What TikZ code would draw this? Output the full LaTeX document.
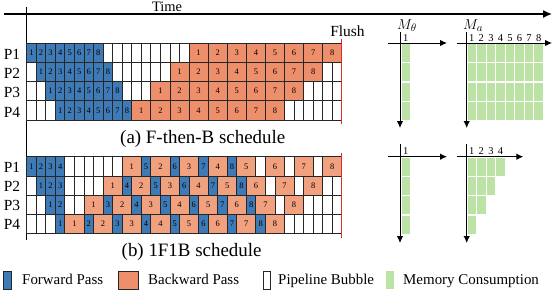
\documentclass[tikz,border=0pt]{standalone}
\usepackage{fontspec}
\setmainfont{Liberation Serif}
\usepackage{tikz}
\usetikzlibrary{arrows.meta, positioning}
\definecolor{fwdblue}{HTML}{3E7BB6}
\definecolor{bwdorange}{HTML}{EE8F6C}
\definecolor{bwdlight}{HTML}{F2A17F}
\definecolor{memgreen}{HTML}{BDE2A5}
\definecolor{flushred}{HTML}{DD2C2C}
\definecolor{gridgray}{HTML}{262626}

% one schedule row: name, top y, backward colour, list of kind/label
\newcount\slotpos
\newcommand\schedrow[4]{%
  \global\slotpos=0
  \foreach \kind/\lbl [count=\k] in {#4}{
    \if b\kind\def\cw{2}\def\cfill{#3}\else
      \def\cw{1}\if f\kind\def\cfill{fwdblue}\else\def\cfill{white}\fi\fi
    \node[cell, fill=\cfill, minimum width=\cw*9.55bp]
      (#1-\k) at ({26.7+\the\slotpos*9.55}, #2) {\lbl};
    \global\advance\slotpos by \cw\relax
  }}

\begin{document}
\begin{tikzpicture}[x=1bp, y=-1bp,
  cell/.style={draw=gridgray, line width=0.9bp, anchor=north west,
               inner sep=0pt, outer sep=0pt, minimum height=19.25bp,
               font=\fontsize{8.5}{9}\selectfont},
  memcell/.style={draw=white, line width=1.2bp, fill=memgreen,
                  anchor=north west, inner sep=0pt, outer sep=0pt,
                  minimum width=9.55bp, minimum height=19.25bp},
  axis/.style={line width=1bp, -{Latex[length=7bp, width=6.5bp]}},
  timeaxis/.style={line width=1.3bp, -{Latex[length=9bp, width=8bp]}},
  flush/.style={draw=flushred, line width=1.6bp},
  plbl/.style={anchor=base, font=\fontsize{15.5}{18}\selectfont, inner sep=0pt},
  collbl/.style={anchor=base, font=\fontsize{10.5}{12}\selectfont, inner sep=0pt},
  caption/.style={anchor=base west, font=\fontsize{19}{22}\selectfont, inner sep=0pt},
  legbox/.style={draw=gridgray, line width=0.9bp, anchor=north west,
                 inner sep=0pt, minimum height=18.5bp},
  legtxt/.style={anchor=base west, font=\fontsize{15}{18}\selectfont, inner sep=0pt},
]
\useasboundingbox (0,0) rectangle (554,290);

% Time axis
\coordinate (t0) at (4,14);
\coordinate (t1) at (552,14);
\coordinate (v0) at (26.5,7);
\coordinate (v1) at (26.5,240);
\draw[timeaxis] (t0) -- (t1);
\draw[line width=1.3bp] (v0) -- (v1);
\node[anchor=base, font=\fontsize{14.5}{17}\selectfont, inner sep=0pt] (time) at (167,11.5) {Time};

% (a) F-then-B
\schedrow{fa1}{43}{bwdorange}{f/1,f/2,f/3,f/4,f/5,f/6,f/7,f/8,e/{},e/{},e/{},e/{},e/{},e/{},e/{},e/{},e/{},b/1,b/2,b/3,b/4,b/5,b/6,b/7,b/8}
\schedrow{fa2}{62.25}{bwdorange}{e/{},f/1,f/2,f/3,f/4,f/5,f/6,f/7,f/8,e/{},e/{},e/{},e/{},e/{},e/{},b/1,b/2,b/3,b/4,b/5,b/6,b/7,b/8,e/{},e/{}}
\schedrow{fa3}{81.5}{bwdorange}{e/{},e/{},f/1,f/2,f/3,f/4,f/5,f/6,f/7,f/8,e/{},e/{},e/{},b/1,b/2,b/3,b/4,b/5,b/6,b/7,b/8,e/{},e/{},e/{},e/{}}
\schedrow{fa4}{100.75}{bwdorange}{e/{},e/{},e/{},f/1,f/2,f/3,f/4,f/5,f/6,f/7,f/8,b/1,b/2,b/3,b/4,b/5,b/6,b/7,b/8,e/{},e/{},e/{},e/{},e/{},e/{}}
\foreach \p/\yy in {1/43,2/62.25,3/81.5,4/100.75}
  \node[plbl] (pa\p) at (12,{\yy+16.3}) {P\p};

% (b) 1F1B
\schedrow{fb1}{156.7}{bwdlight}{f/1,f/2,f/3,f/4,e/{},e/{},e/{},e/{},e/{},e/{},b/1,f/5,b/2,f/6,b/3,f/7,b/4,f/8,b/5,e/{},b/6,e/{},b/7,e/{},b/8}
\schedrow{fb2}{175.95}{bwdlight}{e/{},f/1,f/2,f/3,e/{},e/{},e/{},e/{},b/1,f/4,b/2,f/5,b/3,f/6,b/4,f/7,b/5,f/8,b/6,e/{},b/7,e/{},b/8,e/{},e/{}}
\schedrow{fb3}{195.2}{bwdlight}{e/{},e/{},f/1,f/2,e/{},e/{},b/1,f/3,b/2,f/4,b/3,f/5,b/4,f/6,b/5,f/7,b/6,f/8,b/7,e/{},b/8,e/{},e/{},e/{},e/{}}
\schedrow{fb4}{214.45}{bwdlight}{e/{},e/{},e/{},f/1,b/1,f/2,b/2,f/3,b/3,f/4,b/4,f/5,b/5,f/6,b/6,f/7,b/7,f/8,b/8,e/{},e/{},e/{},e/{},e/{},e/{}}
\foreach \p/\yy in {1/156.7,2/175.95,3/195.2,4/214.45}
  \node[plbl] (pb\p) at (12,{\yy+15.5}) {P\p};

% Flush
\coordinate (fla0) at (341.6,39);
\coordinate (fla1) at (341.6,124);
\coordinate (flb0) at (341.6,152.7);
\coordinate (flb1) at (341.6,238);
\draw[flush] (fla0) -- (fla1);
\draw[flush] (flb0) -- (flb1);
\node[anchor=base, font=\fontsize{15.5}{18}\selectfont, inner sep=0pt] (flush) at (347.5,36) {Flush};

% Captions
\node[caption] (capa) at (120,143) {(a) F-then-B schedule};
\node[caption] (capb) at (121.5,256.5) {(b) 1F1B schedule};

% Memory (a)
\foreach \r in {0,...,3}
  \node[memcell] (mta-\r) at (401,{43.5+\r*19.25}) {};
\foreach \r in {0,...,3}
  \foreach \c in {0,...,7}
    \node[memcell] (maa-\r-\c) at ({467+\c*9.55},{43.5+\r*19.25}) {};
\coordinate (mtah0) at (388,43);   \coordinate (mtah1) at (447,43);
\coordinate (mtav0) at (400,32);   \coordinate (mtav1) at (400,128);
\coordinate (maah0) at (456.7,43); \coordinate (maah1) at (552,43);
\coordinate (maav0) at (466.7,32); \coordinate (maav1) at (466.7,128);
\draw[axis] (mtah0) -- (mtah1);
\draw[axis] (mtav0) -- (mtav1);
\draw[axis] (maah0) -- (maah1);
\draw[axis] (maav0) -- (maav1);
\node[collbl] (mtal1) at (405.8,41) {1};
\foreach \c in {1,...,8}
  \node[collbl] (maal\c) at ({467+(\c-0.5)*9.55},41) {\c};
\node[anchor=base west, font=\fontsize{15}{18}\selectfont, inner sep=0pt] (mtheta) at (397,29) {$M_\theta$};
\node[anchor=base west, font=\fontsize{15}{18}\selectfont, inner sep=0pt] (mact) at (463,29) {$M_a$};

% Memory (b)
\foreach \r in {0,...,3}
  \node[memcell] (mtb-\r) at (401,{157.2+\r*19.25}) {};
\foreach \r in {0,...,3}{
  \pgfmathtruncatemacro\lastc{3-\r}
  \foreach \c in {0,...,\lastc}
    \node[memcell] (mab-\r-\c) at ({467+\c*9.55},{157.2+\r*19.25}) {};
}
\coordinate (mtbh0) at (388,156.7);   \coordinate (mtbh1) at (447,156.7);
\coordinate (mtbv0) at (400,144);     \coordinate (mtbv1) at (400,243);
\coordinate (mabh0) at (456.7,156.7); \coordinate (mabh1) at (523.3,156.7);
\coordinate (mabv0) at (466.7,144);   \coordinate (mabv1) at (466.7,243);
\draw[axis] (mtbh0) -- (mtbh1);
\draw[axis] (mtbv0) -- (mtbv1);
\draw[axis] (mabh0) -- (mabh1);
\draw[axis] (mabv0) -- (mabv1);
\node[collbl] (mtbl1) at (405.8,154.7) {1};
\foreach \c in {1,...,4}
  \node[collbl] (mabl\c) at ({467+(\c-0.5)*9.55},154.7) {\c};

% Legend
\node[legbox, fill=fwdblue, minimum width=7.5bp] (lgf) at (3,270.5) {};
\node[legtxt] (lgft) at (22,284.5) {Forward Pass};
\node[legbox, fill=bwdorange, minimum width=20bp] (lgb) at (118,270.5) {};
\node[legtxt] (lgbt) at (148,284.5) {Backward Pass};
\node[legbox, fill=white, minimum width=7bp] (lge) at (263,270.5) {};
\node[legtxt] (lget) at (278,284.5) {Pipeline Bubble};
\node[legbox, draw=none, fill=memgreen, minimum width=8bp] (lgm) at (386,270.5) {};
\node[legtxt] (lgmt) at (403,284.5) {Memory Consumption};
\end{tikzpicture}
\end{document}
